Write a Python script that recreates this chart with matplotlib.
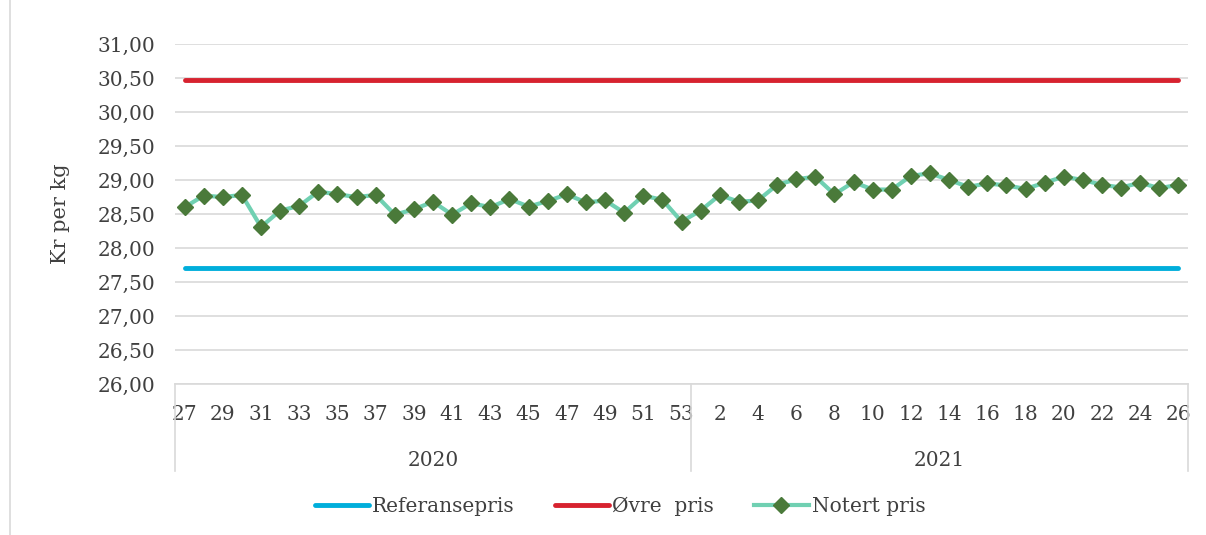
import matplotlib.pyplot as plt
from matplotlib.patches import Rectangle
import matplotlib.transforms as mtransforms

# Uker: 27-53 i 2020 og 1-26 i 2021
weeks_2020 = list(range(27, 54))
weeks_2021 = list(range(1, 27))

notert_2020 = [28.60, 28.77, 28.75, 28.78, 28.31, 28.55, 28.62, 28.83, 28.79,
               28.75, 28.78, 28.49, 28.57, 28.68, 28.49, 28.66, 28.60, 28.72,
               28.61, 28.69, 28.79, 28.67, 28.70, 28.52, 28.77, 28.71, 28.39]
notert_2021 = [28.55, 28.78, 28.68, 28.70, 28.93, 29.01, 29.05, 28.79, 28.97,
               28.86, 28.86, 29.06, 29.10, 29.00, 28.90, 28.95, 28.92, 28.87,
               28.96, 29.05, 29.00, 28.93, 28.89, 28.96, 28.88, 28.93]

referansepris = 27.70
ovre_pris = 30.47

years = ["2020", "2021"]
y_ticks = [26.0, 26.5, 27.0, 27.5, 28.0, 28.5, 29.0, 29.5, 30.0, 30.5, 31.0]

plt.rcParams['font.family'] = ['DejaVu Serif']
txt_col = '#404040'

weeks = weeks_2020 + weeks_2021
notert = notert_2020 + notert_2021
x = list(range(len(weeks)))
n20 = len(weeks_2020)

fig = plt.figure(figsize=(12.06, 5.35), dpi=100)
ax = fig.add_axes([0.1451, 0.2822, 0.8400, 0.6355])

ax.plot(x, [referansepris] * len(x), color='#00AEDB', lw=3.5,
        solid_capstyle='round', label='Referansepris')
ax.plot(x, [ovre_pris] * len(x), color='#D7222F', lw=3.5,
        solid_capstyle='round', label='Øvre  pris')
ax.plot(x, notert, color='#70D0B2', lw=3, marker='D', markersize=8,
        markerfacecolor='#4A7A3A', markeredgecolor='#4A7A3A', label='Notert pris')

ax.set_xlim(-0.5, len(x) - 0.5)
ax.set_ylim(26, 31)
ax.set_yticks(y_ticks)
ax.set_yticklabels([f"{v:.2f}".replace('.', ',') for v in y_ticks],
                   fontsize=14.5, color=txt_col)
ax.grid(axis='y', color='#D9D9D9', lw=1.2)
ax.set_axisbelow(True)

# ukeetiketter: annenhver uke
tick_pos = [i for i in range(n20) if i % 2 == 0] + \
           [n20 + i for i in range(len(weeks_2021)) if weeks_2021[i] % 2 == 0]
ax.set_xticks(tick_pos)
ax.set_xticklabels([str(weeks[i]) for i in tick_pos], fontsize=14.5, color=txt_col)
ax.tick_params(axis='both', length=0)
ax.tick_params(axis='x', pad=15)
ax.tick_params(axis='y', pad=14)

for s in ['top', 'right', 'left']:
    ax.spines[s].set_visible(False)
ax.spines['bottom'].set_color('#D9D9D9')
ax.spines['bottom'].set_linewidth(1.2)

# årsgrupper under aksen
trans = mtransforms.blended_transform_factory(ax.transData, ax.transAxes)
for xs in [-0.5, n20 - 0.5, len(x) - 0.5]:
    ax.plot([xs, xs], [0, -0.255], color='#D9D9D9', lw=1.2,
            transform=trans, clip_on=False)
centers = [(n20 - 1) / 2, n20 + (len(weeks_2021) - 1) / 2]
for c, yr in zip(centers, years):
    ax.text(c, -0.225, yr, transform=trans, ha='center', va='center',
            fontsize=14.5, color=txt_col)

ax.set_ylabel('Kr per kg', fontsize=15, color=txt_col, labelpad=20)

ax.legend(loc='center', bbox_to_anchor=(0.514, 0.054), bbox_transform=fig.transFigure,
          ncol=3, frameon=False, fontsize=14.5, handlelength=2.7, columnspacing=2.0,
          labelcolor=txt_col, handletextpad=0.15)

fig.patches.append(Rectangle((0.008, -0.01), 0.995, 1.02, transform=fig.transFigure,
                             fill=False, edgecolor='#D9D9D9', lw=1.2))

fig.savefig('out.png', dpi=100)
